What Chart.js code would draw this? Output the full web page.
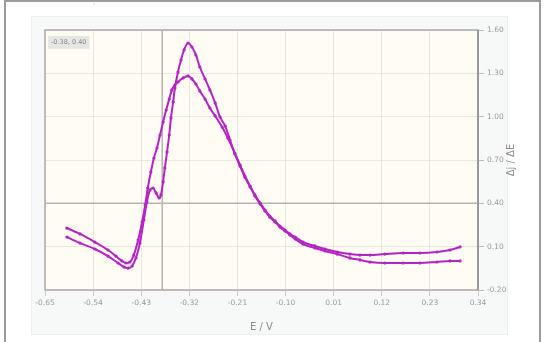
<!DOCTYPE html>
<html><head><meta charset="utf-8">
<script src="https://cdn.jsdelivr.net/npm/chart.js@4"></script>
<style>
html,body{margin:0;padding:0;background:#fff;width:547px;height:342px;overflow:hidden;}
#frame{position:absolute;left:4px;top:0;width:537px;height:350px;border:2px solid #9c9c9c;box-sizing:border-box;}
#panel{position:absolute;left:31px;top:16px;width:477px;height:319px;background:#f7f8f8;border:1px solid #eef0f0;box-sizing:border-box;}
#dash{position:absolute;left:93px;top:0px;font:7px 'DejaVu Sans';color:#aaa;}
#c{position:absolute;left:0;top:0;}
</style></head>
<body>
<div id="frame"></div>
<div id="panel"></div>
<div id="dash">-</div>
<canvas id="c" width="547" height="342"></canvas>
<script>
const xTicks = [-0.65,-0.54,-0.43,-0.32,-0.21,-0.10,0.01,0.12,0.23,0.34];
const yTicks = [-0.20,0.10,0.40,0.70,1.00,1.30,1.60];
const xTitle = 'E / V';
const yTitle = 'Δj / ΔE';
const cursorE = -0.382;
const cursorJ = 0.40;
const cursorLabel = '-0.38, 0.40';

const scanA_E = [-0.600,-0.570,-0.536,-0.506,-0.483,-0.469,-0.460,-0.451,-0.442,-0.433,-0.424,-0.417,-0.410,-0.403,-0.396,-0.389,-0.385,-0.380,-0.376,-0.371,-0.366,-0.362,-0.357,-0.353,-0.346,-0.339,-0.332,-0.323,
-0.314,-0.305,-0.296,-0.284,-0.273,-0.261,-0.250,-0.238,-0.227,-0.216,-0.204,-0.193,-0.181,-0.170,-0.158,-0.147,-0.136,-0.124,-0.113,-0.101,-0.090,-0.078,-0.060,-0.033,-0.010,0.018,0.047,0.070,0.093,0.127,0.169,0.207,0.246,0.276,0.299];
const scanA_J = [0.167,0.125,0.084,0.035,-0.013,-0.041,-0.048,-0.034,0.022,0.125,0.285,0.409,0.492,0.506,0.472,0.437,0.458,0.548,0.645,0.755,0.873,0.991,1.102,1.198,1.309,1.392,1.462,1.510,
1.482,1.427,1.344,1.261,1.185,1.095,0.998,0.935,0.838,0.742,0.658,0.582,0.513,0.451,0.395,0.347,0.305,0.271,0.236,0.208,0.181,0.153,0.118,0.091,0.070,0.049,0.022,0.008,-0.006,-0.013,-0.013,-0.013,-0.006,0.001,0.001];

const scanB_E = [-0.600,-0.570,-0.536,-0.506,-0.488,-0.474,-0.465,-0.456,-0.447,-0.437,-0.428,-0.421,-0.415,-0.408,-0.401,-0.394,-0.387,-0.380,-0.373,-0.366,-0.360,-0.353,-0.346,-0.334,-0.323,
-0.314,-0.305,-0.296,-0.284,-0.273,-0.261,-0.245,-0.232,-0.216,-0.204,-0.193,-0.181,-0.170,-0.158,-0.147,-0.136,-0.124,-0.113,-0.101,-0.090,-0.078,-0.060,-0.033,-0.010,0.018,0.047,0.070,0.093,0.127,0.169,0.207,0.246,0.276,0.299];
const scanB_J = [0.229,0.188,0.132,0.077,0.035,0.001,-0.013,-0.006,0.042,0.146,0.271,0.388,0.506,0.617,0.714,0.783,0.873,0.963,1.046,1.122,1.185,1.219,1.240,1.268,1.282,
1.261,1.226,1.178,1.122,1.060,1.005,0.928,0.852,0.748,0.665,0.589,0.520,0.458,0.402,0.354,0.312,0.278,0.243,0.215,0.188,0.167,0.132,0.105,0.084,0.063,0.049,0.042,0.042,0.049,0.056,0.056,0.063,0.077,0.098];

const lineColor = '#b324c4';
const toPts = (xs, ys) => xs.map((x, i) => ({x: x, y: ys[i]}));

const deco = {
  id: 'deco',
  beforeDraw(chart) {
    const {ctx, chartArea: a} = chart;
    ctx.save();
    ctx.fillStyle = '#fffcf4';
    ctx.fillRect(a.left, a.top, a.right - a.left, a.bottom - a.top);
    ctx.restore();
  },
  beforeDatasetsDraw(chart) {
    const {ctx, chartArea: a, scales} = chart;
    const px = scales.x.getPixelForValue(cursorE);
    const py = scales.y.getPixelForValue(cursorJ);
    ctx.save();
    ctx.strokeStyle = '#b4b4b0';
    ctx.lineWidth = 1.5;
    ctx.beginPath();
    ctx.moveTo(px, a.top); ctx.lineTo(px, a.bottom);
    ctx.moveTo(a.left, py); ctx.lineTo(a.right, py);
    ctx.stroke();
    ctx.restore();
  },
  afterDraw(chart) {
    const {ctx, chartArea: a} = chart;
    ctx.save();
    ctx.strokeStyle = '#aaaaaa';
    ctx.lineWidth = 1.5;
    ctx.strokeRect(a.left, a.top, a.right - a.left, a.bottom - a.top);
    ctx.strokeStyle = '#9a9a9a';
    ctx.lineWidth = 2;
    ctx.beginPath(); ctx.moveTo(a.right, a.top); ctx.lineTo(a.right, a.bottom); ctx.stroke();
    ctx.font = '6.5px "DejaVu Sans"';
    const tw = ctx.measureText(cursorLabel).width;
    ctx.fillStyle = '#e6e6e4';
    ctx.fillRect(a.left + 3, a.top + 6, tw + 6, 13);
    ctx.fillStyle = '#8a8a8a';
    ctx.textBaseline = 'middle';
    ctx.fillText(cursorLabel, a.left + 6, a.top + 12.5);
    ctx.translate(511, (a.top + a.bottom) / 2);
    ctx.rotate(-Math.PI / 2);
    ctx.font = '10px "DejaVu Sans"';
    ctx.fillStyle = '#8c8c8c';
    ctx.textAlign = 'center';
    ctx.fillText(yTitle, 0, 0);
    ctx.restore();
  }
};

new Chart(document.getElementById('c'), {
  type: 'scatter',
  data: {
    datasets: [
      {label: 'scan 1', data: toPts(scanA_E, scanA_J)},
      {label: 'scan 2', data: toPts(scanB_E, scanB_J)}
    ].map(d => Object.assign(d, {
      showLine: true, borderColor: lineColor, backgroundColor: lineColor,
      borderWidth: 2, pointRadius: 1.6, pointBorderWidth: 0,
      cubicInterpolationMode: 'monotone'
    }))
  },
  options: {
    responsive: false, animation: false,
    layout: {padding: {left: 45, top: 30, right: 0, bottom: 0}},
    plugins: {legend: {display: false}, tooltip: {enabled: false}},
    scales: {
      x: {
        type: 'linear', position: 'bottom', min: -0.65, max: 0.34,
        afterBuildTicks: s => { s.ticks = xTicks.map(v => ({value: v})); },
        afterFit: s => { s.height = 52; },
        ticks: {callback: v => v.toFixed(2), font: {family: 'DejaVu Sans', size: 7.5}, color: '#9a9a9a', padding: 3, maxRotation: 0, autoSkip: false},
        grid: {color: '#ece6dc', tickColor: '#cccccc', tickLength: 6, lineWidth: 1},
        border: {display: false},
        title: {display: true, text: xTitle, font: {family: 'DejaVu Sans', size: 10}, color: '#8c8c8c', padding: {top: 0, bottom: 9}}
      },
      y: {
        type: 'linear', position: 'right', min: -0.20, max: 1.60,
        afterBuildTicks: s => { s.ticks = yTicks.map(v => ({value: v})); },
        afterFit: s => { s.width = 69; },
        ticks: {callback: v => v.toFixed(2), font: {family: 'DejaVu Sans', size: 7.5}, color: '#9a9a9a', padding: 3, autoSkip: false},
        grid: {color: '#ece6dc', tickColor: '#bbbbbb', tickLength: 6, lineWidth: 1},
        border: {display: false}
      }
    }
  },
  plugins: [deco]
});
</script>
</body></html>
